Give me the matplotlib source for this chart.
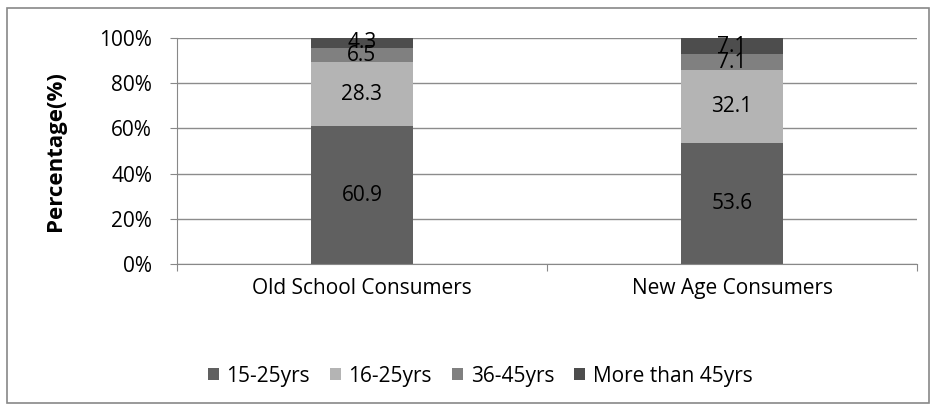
import matplotlib.pyplot as plt
import numpy as np
from matplotlib.patches import Rectangle

# consumer groups and age split (%)
groups = ["Old School Consumers", "New Age Consumers"]
age_bands = ["15-25yrs", "16-25yrs", "36-45yrs", "More than 45yrs"]
age_15_25 = [60.9, 53.6]
age_16_25 = [28.3, 32.1]
age_36_45 = [6.5, 7.1]
age_45_plus = [4.3, 7.1]

colors = ["#606060", "#b4b4b4", "#808080", "#4d4d4d"]
series = [age_15_25, age_16_25, age_36_45, age_45_plus]

plt.rcParams["font.family"] = ["Open Sans", "DejaVu Sans"]
fs = 15

fig = plt.figure(figsize=(9.36, 4.11), dpi=100)
ax = fig.add_axes([177 / 936, 1 - 264 / 411, 740 / 936, 226 / 411])

x = np.arange(len(groups)) + 0.5
totals = np.sum(series, axis=0)
bottom = np.zeros(len(groups))
for name, vals, c in zip(age_bands, series, colors):
    share = np.array(vals) / totals
    ax.bar(x, share, width=0.276, bottom=bottom, color=c, label=name, zorder=2)
    for xi, b, s, v in zip(x, bottom, share, vals):
        ax.text(xi, b + s / 2, f"{v}", ha="center", va="center", fontsize=fs, color="black", zorder=3)
    bottom += share

ax.set_xlim(0, 2)
ax.set_ylim(0, 1)
ticks = np.arange(0, 1.01, 0.2)
ax.set_yticks(ticks)
ax.set_yticklabels([f"{int(round(t * 100))}%" for t in ticks], fontsize=fs)
ax.set_xticks([0, 1, 2], minor=False)
ax.set_xticklabels([])
ax.set_xticks(x, minor=True)
ax.set_xticklabels(groups, minor=True, fontsize=fs)
ax.tick_params(axis="x", which="minor", length=0, pad=10)
ax.tick_params(axis="x", which="major", length=5, color="#888888")
ax.tick_params(axis="y", length=5, color="#888888", pad=13)
ax.grid(axis="y", color="#8c8c8c", linewidth=1, zorder=0)
for side in ["top", "right"]:
    ax.spines[side].set_visible(False)
for side in ["left", "bottom"]:
    ax.spines[side].set_color("#888888")
ax.set_ylabel("Percentage(%)", fontsize=16, fontweight="bold")
ax.yaxis.set_label_coords(-0.15, 0.5)

fig.legend(loc="center", bbox_to_anchor=(480 / 936, 1 - 376 / 411), ncol=4, frameon=False,
           fontsize=fs, handlelength=0.55, handleheight=0.55, columnspacing=0.95, handletextpad=0.35)

# outer chart border
fig.patches.append(Rectangle((7 / 936, 8 / 411), 922 / 936, 395 / 411, transform=fig.transFigure,
                             fill=False, edgecolor="#888888", linewidth=1.2))

fig.savefig("out.png", dpi=100)
